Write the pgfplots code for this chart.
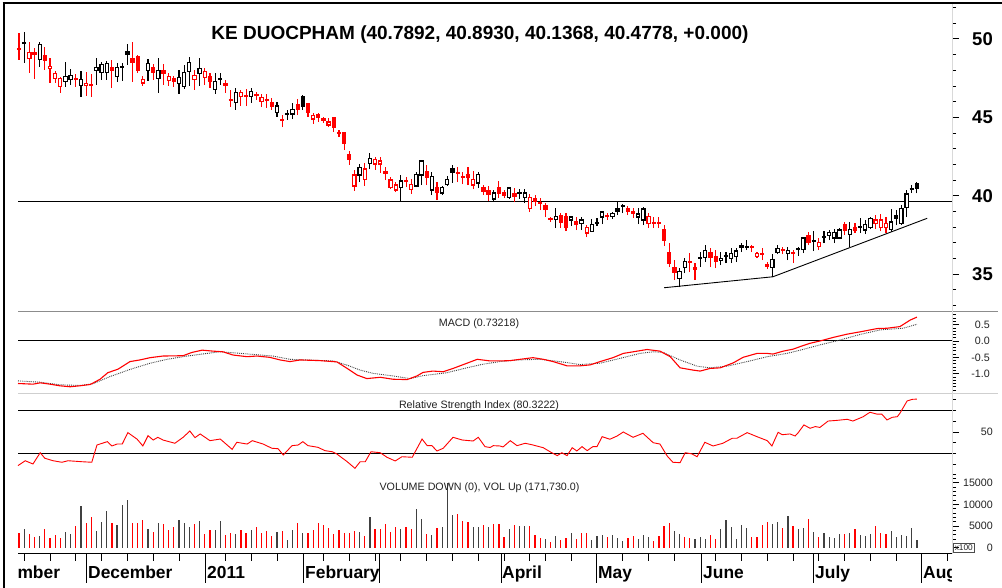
\documentclass[border=0pt]{standalone}
\usepackage{pgfplots}
\pgfplotsset{compat=1.18}
\usepackage{pgfplotstable}
\usepackage{fontspec}
\setmainfont{Liberation Sans}
\definecolor{txt}{HTML}{222222}
\definecolor{sepg}{HTML}{8C8C8C}
\definecolor{sepl}{HTML}{CFCFCF}
\definecolor{volk}{HTML}{404040}

\pgfplotstableread{
i o h l c cc v vc
0 49.38 50.39 48.66 49.35 1 3440 1
1 49.77 50.45 48.47 49.73 0 4300 0
2 48.73 49.81 47.83 49.11 1 3130 1
3 49.11 49.43 47.45 48.98 1 2500 1
4 48.66 49.81 48.22 49.62 0 2740 0
5 48.92 49.49 48.02 48.60 1 4300 1
6 48.09 48.79 47.19 48.22 1 2270 1
7 47.45 47.96 47.19 47.77 1 2890 1
8 46.94 47.58 46.56 47.45 1 2270 1
9 47.26 48.53 46.94 47.58 0 3600 0
10 47.39 48.09 47.07 47.64 0 3200 0
11 47.45 47.77 46.94 47.45 1 5080 1
12 47.00 47.96 46.30 47.39 0 9700 0
13 47.00 47.90 46.36 47.13 1 5790 1
14 47.07 47.77 46.30 47.00 1 7120 1
15 47.96 48.79 47.07 48.15 0 3830 0
16 47.83 48.53 47.39 48.34 0 5940 0
17 47.83 48.60 47.39 48.41 0 8520 0
18 48.15 48.66 46.87 47.96 1 5790 1
19 47.58 48.47 47.26 48.15 0 5320 0
20 48.22 48.47 47.32 48.22 0 9930 0
21 49.17 49.68 48.34 48.98 0 10950 0
22 48.73 49.81 47.26 48.47 1 5790 1
23 48.85 48.98 47.83 47.96 1 5790 1
24 47.19 47.64 47.00 47.39 1 6410 1
25 47.96 48.73 47.32 48.41 0 4300 0
26 48.15 48.41 47.39 47.83 1 3680 1
27 47.45 48.79 46.56 47.96 0 5790 0
28 47.96 48.41 47.07 47.77 1 5550 1
29 47.32 47.83 47.00 47.58 1 4070 1
30 47.45 47.64 46.94 47.26 1 4770 1
31 47.13 48.02 46.49 47.51 0 6410 0
32 46.94 48.34 46.81 47.83 0 5630 0
33 47.90 48.85 47.00 48.47 0 4850 0
34 47.39 48.02 46.75 47.64 1 5550 1
35 47.77 48.79 47.00 48.09 0 6180 0
36 47.51 48.15 47.07 47.90 1 3200 1
37 47.58 47.83 46.87 47.26 1 4070 1
38 46.75 47.83 46.49 47.26 0 4070 0
39 47.45 47.83 47.07 47.45 0 6180 0
40 47.13 47.39 46.56 47.00 1 2890 1
41 46.11 46.75 45.66 46.11 1 3440 1
42 45.92 46.87 45.47 46.56 0 3200 0
43 46.30 46.75 45.72 46.56 1 4070 1
44 46.36 46.81 45.72 46.30 1 3440 1
45 46.30 46.87 45.92 46.62 0 4070 0
46 46.43 46.62 46.11 46.43 1 4770 1
47 45.98 46.49 45.66 46.24 1 3440 1
48 46.11 46.49 45.60 46.11 1 3830 1
49 45.92 46.24 45.47 45.72 1 2740 1
50 45.28 45.98 45.02 45.72 0 3600 0
51 44.83 45.15 44.38 44.83 1 3830 1
52 45.21 45.47 44.83 45.21 0 1880 0
53 45.21 45.92 44.89 45.47 0 4070 0
54 45.79 46.17 45.15 45.53 1 5790 1
55 46.30 46.43 45.47 45.72 0 3440 0
56 45.85 45.92 45.02 45.28 1 3440 1
57 44.89 45.28 44.58 45.09 1 4070 1
58 45.15 45.28 44.70 44.96 1 5790 1
59 44.89 45.02 44.64 44.77 1 5320 1
60 44.51 44.96 44.38 44.70 1 4610 1
61 44.96 45.02 44.06 44.38 1 3130 1
62 44.00 44.19 43.74 44.00 1 4070 1
63 44.00 44.06 42.92 43.36 1 3440 1
64 42.60 42.85 41.96 42.28 1 3440 1
65 40.62 41.64 40.30 41.32 1 3830 1
66 41.32 42.02 40.87 41.77 0 3600 0
67 41.06 42.08 40.62 41.70 1 2740 1
68 42.08 42.72 41.70 42.40 0 7120 0
69 42.02 42.47 41.64 42.28 1 4300 1
70 42.02 42.47 41.45 42.21 1 4300 1
71 41.57 41.83 41.00 41.45 1 5550 1
72 40.55 41.19 40.42 41.00 1 3680 1
73 40.36 40.87 40.23 40.68 1 4850 1
74 40.55 41.32 39.66 40.94 0 4300 0
75 40.94 41.19 40.55 40.94 1 4850 1
76 40.42 41.06 40.11 40.74 1 4300 1
77 40.62 41.51 40.55 41.38 0 8910 0
78 41.32 42.28 40.68 42.21 0 6650 0
79 41.51 41.96 40.68 41.19 1 3200 1
80 40.36 41.51 40.04 41.25 0 2890 0
81 40.49 40.87 39.72 40.23 1 4610 1
82 40.17 40.62 40.04 40.55 0 4770 0
83 40.74 41.25 40.62 41.06 0 15020 0
84 41.70 41.96 40.81 41.51 0 7590 0
85 41.45 41.83 40.87 41.45 1 7900 1
86 41.19 41.51 40.74 41.19 1 6260 1
87 41.38 41.83 40.68 41.19 1 6020 1
88 40.68 41.57 40.42 41.06 1 4850 0
89 40.81 41.51 40.49 41.38 0 4770 0
90 40.49 40.68 40.04 40.30 1 5240 1
91 40.30 40.62 39.66 40.11 1 4770 0
92 39.79 40.36 39.66 40.17 0 5550 1
93 40.55 40.94 39.85 40.17 1 5470 1
94 40.17 40.36 39.85 40.04 1 2500 1
95 39.91 40.55 39.79 40.49 0 4300 0
96 40.11 40.49 39.59 39.98 1 5320 1
97 40.17 40.42 39.79 40.17 0 5000 0
98 39.91 40.42 39.53 40.17 0 5000 0
99 39.21 40.11 38.96 39.91 1 5000 1
100 39.79 40.04 39.34 39.66 1 2890 1
101 39.59 39.85 39.08 39.53 1 2190 1
102 39.34 39.53 38.64 39.15 1 1950 0
103 38.51 38.64 38.32 38.51 1 1330 1
104 38.51 39.21 37.93 38.70 0 2740 0
105 38.76 38.89 37.93 38.32 1 1720 1
106 38.70 38.89 37.74 38.00 1 2270 1
107 38.45 38.70 38.06 38.64 0 3440 0
108 38.32 38.64 37.81 38.19 1 1950 1
109 38.25 38.64 37.81 38.45 0 3440 1
110 37.62 38.13 37.36 38.00 1 3440 1
111 37.74 38.51 37.68 38.19 0 1720 0
112 38.25 38.57 38.06 38.25 0 2740 0
113 38.64 38.96 38.19 38.96 0 2890 0
114 38.70 38.89 38.45 38.70 1 2420 1
115 38.70 38.96 38.51 38.89 0 2890 0
116 39.21 39.59 38.76 39.02 0 2190 0
117 39.34 39.47 38.89 39.34 0 1490 0
118 39.21 39.34 38.76 39.02 1 2190 1
119 39.02 39.21 38.57 38.89 1 2740 1
120 38.64 39.21 38.19 38.83 0 1950 0
121 38.45 39.27 38.13 39.15 0 2890 0
122 38.25 38.89 37.93 38.70 1 2580 0
123 38.25 38.64 37.93 38.25 1 1490 1
124 38.25 38.64 37.93 38.25 1 2740 1
125 37.87 38.13 36.78 37.17 1 5000 1
126 36.40 36.98 35.44 35.70 1 5790 1
127 35.44 35.89 34.61 35.12 1 3830 0
128 34.74 35.38 34.17 35.19 0 3200 0
129 35.44 36.02 35.06 35.83 0 2420 1
130 35.76 36.34 35.12 35.76 1 2270 1
131 35.44 35.70 34.61 35.32 1 2110 0
132 36.02 36.40 35.44 36.02 0 2420 0
133 36.08 36.85 35.76 36.53 0 1950 0
134 36.40 36.66 35.44 36.08 1 2890 1
135 36.15 36.53 35.38 35.83 1 1950 1
136 35.89 36.40 35.57 36.02 0 4300 0
137 36.15 36.40 35.70 36.15 0 6410 0
138 36.02 36.66 35.70 36.34 0 4770 0
139 36.15 36.66 35.76 36.47 0 1950 0
140 36.85 36.98 36.40 36.72 0 5240 0
141 36.72 37.17 36.53 36.72 0 4540 0
142 36.72 36.85 36.40 36.72 1 2420 1
143 36.15 36.40 36.02 36.34 1 2420 1
144 36.27 36.66 35.89 36.27 1 5240 1
145 35.64 35.76 35.32 35.51 1 5870 1
146 35.44 36.27 34.81 35.95 0 5470 0
147 36.40 36.85 36.27 36.66 0 5870 0
148 36.53 36.72 36.27 36.53 1 4540 1
149 36.34 36.72 35.89 36.53 0 7350 0
150 36.34 36.53 35.70 36.34 1 5000 1
151 36.59 36.72 36.15 36.59 0 4300 0
152 36.59 37.36 36.34 37.30 0 4540 0
153 37.49 37.68 36.85 37.04 1 6570 1
154 37.10 37.74 36.47 37.10 0 3750 0
155 36.78 37.30 36.53 37.04 1 2420 1
156 37.36 37.74 36.98 37.36 0 3360 0
157 37.49 37.81 37.17 37.68 0 2420 0
158 37.30 37.87 36.98 37.68 0 2190 0
159 37.30 37.93 37.23 37.81 0 3130 0
160 38.13 38.32 37.49 37.81 1 3130 1
161 37.55 38.32 36.72 37.87 0 3440 0
162 38.00 38.25 37.62 37.81 1 4300 1
163 38.00 38.57 37.62 38.00 0 2890 0
164 37.81 38.45 37.55 38.19 0 2740 0
165 38.00 38.64 37.87 38.57 0 3200 0
166 38.25 38.76 37.87 38.45 1 5000 1
167 38.00 38.83 37.74 38.45 1 3440 1
168 38.00 38.64 37.62 38.25 1 3200 1
169 37.87 39.15 37.68 38.32 0 3830 0
170 38.76 39.08 38.13 38.57 0 2420 0
171 38.25 39.40 38.13 39.21 0 2890 0
172 39.27 40.36 38.64 40.11 0 2740 0
173 40.42 40.68 40.17 40.42 0 4540 0
174 40.79 40.89 40.14 40.48 0 1720 0
}\price

\pgfdeclareplotmark{candle}{%
  \begingroup
  \pgfkeys{/pgf/fpu=true, /pgf/fpu/output format=fixed}%
  \pgfmathsetmacro\candH{(\vh-\vc)*15.68}%
  \pgfmathsetmacro\candL{(\vl-\vc)*15.68}%
  \pgfmathsetmacro\candB{(\vo-\vc)*15.68}%
  \pgfmathsetmacro\candK{\vcc}%
  \pgfkeys{/pgf/fpu=false}%
  \ifdim\candK pt>0.5pt \def\candC{red}\else\def\candC{black}\fi
  \pgfsetstrokecolor{\candC}%
  \pgfsetfillcolor{\candC}%
  \pgfsetlinewidth{1.1pt}%
  \pgfpathmoveto{\pgfqpoint{0pt}{\candL pt}}%
  \pgfpathlineto{\pgfqpoint{0pt}{\candH pt}}%
  \pgfusepathqstroke
  \ifdim\candB pt>0.4pt
    \pgfpathrectangle{\pgfqpoint{-1.6pt}{0pt}}{\pgfqpoint{3.2pt}{\candB pt}}%
    \pgfusepathqfillstroke
  \else\ifdim\candB pt<-0.4pt
    \pgfsetfillcolor{white}%
    \pgfpathrectangle{\pgfqpoint{-1.6pt}{0pt}}{\pgfqpoint{3.2pt}{\candB pt}}%
    \pgfusepathqfillstroke
  \else
    \pgfsetlinewidth{1.6pt}%
    \pgfpathmoveto{\pgfqpoint{-2.1pt}{0pt}}%
    \pgfpathlineto{\pgfqpoint{2.1pt}{0pt}}%
    \pgfusepathqstroke
  \fi\fi
  \endgroup
}

\pgfplotsset{
  panel/.style={
    scale only axis, width=934pt, xmin=-0.2, xmax=180.8,
    axis line style={draw=none},
    ytick pos=right, yticklabels={},
    tick align=outside,
    major tick length=7pt, minor tick length=4pt,
    tick style={black, line width=0.8pt},
    scaled y ticks=false,
    clip=false,
  },
}
\tikzset{
  lab/.style={anchor=east, inner sep=0pt, xshift=41pt, text=txt, font=\fontsize{10.7}{12}\selectfont},
  plab/.style={anchor=east, inner sep=0pt, xshift=41pt, text=black, font=\fontsize{18.5}{20}\selectfont\bfseries},
}

\begin{document}
\begin{tikzpicture}[x=1pt,y=1pt]
\useasboundingbox (0,0) rectangle (1002,588);

% ---------- price ----------
\begin{axis}[panel, at={(18pt,276pt)}, anchor=south west, height=308pt,
  ymin=32.583, ymax=52.226, xtick=\empty,
  ytick={35,40,45,50},
  minor ytick={33,34,36,37,38,39,41,42,43,44,46,47,48,49,51,52}]
\addplot[black, line width=1pt] coordinates {(-0.2,39.66) (180.8,39.66)};
\addplot[black, line width=0.9pt] coordinates {(125.0,34.13) (146.1,34.83) (176.0,38.56)};
\addplot[scatter, only marks, mark=candle,
  visualization depends on={\thisrow{o} \as \vo},
  visualization depends on={\thisrow{h} \as \vh},
  visualization depends on={\thisrow{l} \as \vl},
  visualization depends on={\thisrow{c} \as \vc},
  visualization depends on={\thisrow{cc} \as \vcc}]
  table[x=i, y=c] {\price};
\node[plab] at (axis cs:180.8,50) {50};
\node[plab] at (axis cs:180.8,45) {45};
\node[plab] at (axis cs:180.8,40) {40};
\node[plab] at (axis cs:180.8,35) {35};
\end{axis}

% ---------- MACD ----------
\begin{axis}[panel, at={(18pt,194pt)}, anchor=south west, height=82pt,
  ymin=-1.6208, ymax=0.8869, xtick=\empty,
  ytick={-1,-0.5,0,0.5},
  minor ytick={-1.6,-1.5,-1.4,-1.3,-1.2,-1.1,-0.9,-0.8,-0.7,-0.6,-0.4,-0.3,-0.2,-0.1,0.1,0.2,0.3,0.4,0.6,0.7,0.8}]
\addplot[black, line width=1pt] coordinates {(-0.2,0) (180.8,0)};
\addplot[black!75, densely dotted, line width=0.9pt] coordinates {
(-0.2,-1.22) (4.1,-1.26) (7.9,-1.34) (11.8,-1.36) (14.3,-1.31) (17.6,-1.09) (21.5,-0.87)
(25.4,-0.68) (28.7,-0.56) (32.6,-0.46) (36.4,-0.38) (39.0,-0.33) (41.5,-0.36) (45.3,-0.41)
(49.2,-0.46) (52.5,-0.56) (55.8,-0.58) (60.9,-0.61) (63.6,-0.74) (66.1,-0.89) (68.6,-0.99)
(72.5,-1.07) (75.8,-1.15) (78.3,-1.06) (82.9,-0.97) (86.8,-0.82) (89.9,-0.71) (93.2,-0.63)
(96.5,-0.58) (101.0,-0.56) (104.8,-0.63) (108.7,-0.72) (112.6,-0.68) (116.5,-0.53)
(120.3,-0.38) (122.9,-0.33) (124.8,-0.35) (128.1,-0.58) (131.4,-0.77) (133.9,-0.82)
(137.2,-0.77) (141.1,-0.63) (145.0,-0.48) (148.8,-0.38) (151.4,-0.28) (155.2,-0.12)
(159.1,0.03) (163.0,0.20) (166.9,0.34) (171.3,0.39) (174.0,0.51)};
\addplot[red, line width=1.1pt] coordinates {
(-0.2,-1.30) (2.7,-1.32) (4.1,-1.28) (6.0,-1.32) (7.9,-1.37) (9.9,-1.40) (11.8,-1.37)
(13.8,-1.33) (15.7,-1.17) (17.2,-0.97) (19.2,-0.86) (21.5,-0.63) (23.4,-0.58) (25.4,-0.51)
(27.9,-0.46) (31.8,-0.45) (33.5,-0.35) (35.5,-0.28) (37.6,-0.31) (39.5,-0.33) (41.5,-0.43)
(44.2,-0.48) (46.1,-0.46) (48.6,-0.50) (50.6,-0.58) (52.5,-0.63) (54.5,-0.58) (58.3,-0.60)
(61.6,-0.64) (63.6,-0.84) (65.5,-1.04) (67.4,-1.15) (70.0,-1.11) (72.5,-1.17) (75.2,-1.18)
(77.1,-1.07) (78.3,-0.96) (80.2,-0.92) (82.2,-0.94) (84.1,-0.84) (86.8,-0.68) (88.8,-0.56)
(91.3,-0.61) (93.2,-0.61) (95.2,-0.60) (97.1,-0.56) (99.6,-0.51) (101.6,-0.56) (103.5,-0.63)
(106.2,-0.76) (108.7,-0.76) (110.7,-0.73) (112.6,-0.63) (115.1,-0.51) (117.1,-0.38)
(119.8,-0.31) (121.7,-0.26) (124.2,-0.31) (126.2,-0.48) (128.1,-0.82) (130.6,-0.89)
(132.0,-0.92) (133.9,-0.84) (135.9,-0.82) (138.4,-0.67) (140.3,-0.50) (143.0,-0.38)
(145.0,-0.38) (146.1,-0.40) (148.1,-0.31) (150.0,-0.25) (151.4,-0.17) (153.3,-0.07)
(155.2,0.00) (157.8,0.11) (160.5,0.21) (163.0,0.28) (166.3,0.38) (168.2,0.39) (170.7,0.44)
(172.7,0.64) (174.0,0.73)};
\node[lab, xshift=-3pt] at (axis cs:180.8,0.5) {0.5};
\node[lab, xshift=-3pt] at (axis cs:180.8,0) {0.0};
\node[lab, xshift=-3pt] at (axis cs:180.8,-0.5) {-0.5};
\node[lab, xshift=-3pt] at (axis cs:180.8,-1) {-1.0};
\end{axis}

% ---------- RSI ----------
\begin{axis}[panel, at={(18pt,116pt)}, anchor=south west, height=78pt,
  ymin=13.13, ymax=85.02, xtick=\empty,
  ytick={50}, minor ytick={20,30,40,60,70,80}]
\addplot[black, line width=1pt] coordinates {(-0.2,70) (180.8,70)};
\addplot[black, line width=1pt] coordinates {(-0.2,30) (180.8,30)};
\addplot[red, line width=0.9pt] coordinates {
(-0.2,19.0) (1.2,23.5) (2.7,20.5) (4.1,30.9) (5.0,25.8) (6.6,23.5) (8.3,22.1) (9.5,23.5)
(12.2,22.6) (14.1,22.1) (15.1,38.0) (17.1,41.1) (18.0,37.1) (19.0,38.9) (20.0,38.9)
(21.1,49.4) (22.9,43.3) (24.0,37.1) (25.0,46.6) (26.0,42.6) (26.9,45.1) (27.9,42.6)
(30.2,39.6) (31.8,45.1) (33.1,50.9) (34.1,44.8) (35.1,48.2) (37.0,42.0) (39.0,43.5)
(41.3,34.0) (42.2,40.5) (44.2,38.9) (45.2,42.0) (47.3,38.9) (49.0,35.0) (50.2,34.6)
(51.2,28.8) (52.9,37.4) (54.1,38.0) (55.0,41.1) (56.0,37.4) (57.9,35.9) (59.3,32.8)
(60.7,31.8) (61.6,29.7) (63.6,22.6) (65.1,16.5) (66.1,22.6) (67.1,22.6) (68.2,31.8)
(70.0,30.9) (71.3,26.7) (72.9,23.3) (74.2,27.2) (76.2,26.7) (78.1,43.5) (79.1,37.4)
(80.0,37.4) (81.0,32.5) (82.2,35.0) (84.1,45.1) (85.9,42.6) (88.0,41.7) (89.0,45.1)
(90.3,36.5) (91.3,35.7) (91.9,37.4) (93.2,37.1) (93.8,36.2) (95.2,42.0) (96.5,37.4)
(98.1,39.6) (99.6,38.0) (101.6,35.5) (102.9,31.8) (104.3,28.2) (105.2,30.9) (106.2,28.2)
(107.2,35.5) (108.1,32.5) (109.1,36.5) (110.1,32.8) (111.2,36.5) (112.0,36.5) (113.0,45.7)
(114.5,43.3) (115.9,46.3) (117.1,50.0) (119.0,45.1) (120.9,48.8) (122.9,40.1) (124.2,38.9)
(125.6,27.9) (126.7,22.1) (128.1,21.7) (129.1,30.9) (130.4,29.8) (131.4,27.2) (132.9,40.5)
(134.5,37.1) (136.4,39.6) (138.2,44.2) (139.1,44.2) (141.1,49.4) (143.0,45.7) (145.0,42.0)
(145.9,37.1) (147.1,49.7) (147.9,47.5) (149.4,48.2) (150.4,46.3) (151.0,49.4) (152.1,56.5)
(153.3,53.4) (154.3,55.0) (155.2,54.2) (156.8,60.1) (158.5,60.7) (160.5,61.7) (161.6,60.1)
(163.6,64.1) (164.9,68.2) (166.3,66.4) (167.2,66.4) (168.2,61.1) (169.2,63.5) (170.2,64.1)
(170.7,67.2) (172.1,78.6) (173.1,80.1) (174.0,80.3)};
\node[lab] at (axis cs:180.8,50) {50};
\end{axis}

% ---------- Volume ----------
\begin{axis}[panel, at={(18pt,34pt)}, anchor=south west, height=82pt,
  ymin=-1429, ymax=17465,
  ytick={0,5000,10000,15000},
  minor ytick={1000,2000,3000,4000,6000,7000,8000,9000,11000,12000,13000,14000,16000,17000},
  xtick pos=left,
  xtick={1,6,11,16,21,26,31,40,45,50,59,64,69,74,79,84,89,94,99,102,107,117,122,127,135,140,145,150,155,160,165,170,180},
  xticklabels={},
  extra x ticks={13.04,36.2,55.1,69.9,93.5,112,132.2,153.9,174.9},
  extra x tick labels={},
  extra x tick style={major tick length=29pt, tick style={black, line width=1pt}}]
\addplot[ycomb, red, line width=1.2pt, restrict expr to domain={\thisrow{vc}}{0.5:1.5}]
  table[x=i, y=v] {\price};
\addplot[ycomb, volk, line width=1.2pt, restrict expr to domain={\thisrow{vc}}{-0.5:0.5}]
  table[x=i, y=v] {\price};
\node[lab] at (axis cs:180.8,15000) {15000};
\node[lab] at (axis cs:180.8,10000) {10000};
\node[lab] at (axis cs:180.8,5000) {5000};
\node[lab] at (axis cs:180.8,0) {0};
\end{axis}

% ---------- frame and rules ----------
\draw[black, line width=2.3pt] (3.7,0) -- (3.7,585.1);
\draw[black, line width=2.3pt] (2.5,585.1) -- (1002,585.1);
\draw[sepg, line width=1pt] (18,276) -- (998,276);
\draw[sepl, line width=1pt] (18,194) -- (998,194);
\draw[black, line width=1pt] (18,34) -- (952,34);
\draw[black!15, line width=0.6pt] (952.7,34) -- (952.7,584);

% ---------- texts ----------
\node[anchor=base, inner sep=0pt, font=\fontsize{19}{22}\selectfont\bfseries] at (480,548) {KE DUOCPHAM (40.7892, 40.8930, 40.1368, 40.4778, +0.000)};
\node[anchor=base, inner sep=0pt, text=txt, font=\fontsize{10.7}{12}\selectfont] at (479,261.3) {MACD (0.73218)};
\node[anchor=base, inner sep=0pt, text=txt, font=\fontsize{10.7}{12}\selectfont] at (479,179.3) {Relative Strength Index (80.3222)};
\node[anchor=base, inner sep=0pt, text=txt, font=\fontsize{10.7}{12}\selectfont] at (479.5,97.3) {VOLUME DOWN (0), VOL Up (171,730.0)};
\node[draw=black!70, line width=0.6pt, inner sep=0.6pt, minimum width=21pt, minimum height=9pt, font=\fontsize{8.3}{9}\selectfont, text=txt] at (963.8,40.2) {x100};

\begin{scope}[every node/.style={anchor=base west, inner sep=0pt, font=\fontsize{17.4}{20}\selectfont\bfseries}]
\node at (17.3,9) {mber};
\node at (88,9) {December};
\node at (207,9) {2011};
\node at (305,9) {February};
\node at (502,9) {April};
\node at (598,9) {May};
\node at (703,9) {June};
\node at (815,9) {July};
\begin{scope}
\clip (900,0) rectangle (951.5,33);
\node at (923,9) {Aug};
\end{scope}
\end{scope}
\end{tikzpicture}
\end{document}
